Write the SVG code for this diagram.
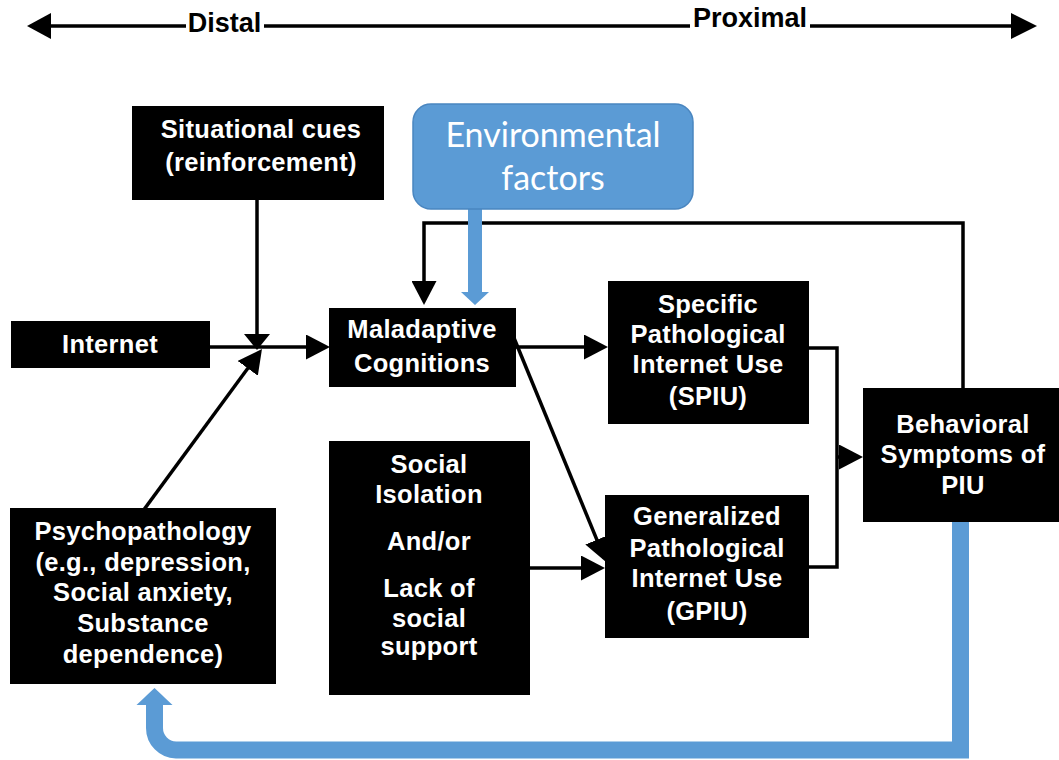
<svg xmlns="http://www.w3.org/2000/svg" width="1059" height="760" viewBox="0 0 1059 760">
  <style>
    .box { fill: #000; }
    .lbl { font-family: "Liberation Sans", Arial, sans-serif; font-weight: bold; font-size: 25.5px; letter-spacing: 0.3px; fill: #fff; text-anchor: middle; }
    .axis { font-family: "Liberation Sans", Arial, sans-serif; font-weight: bold; font-size: 27px; fill: #000; text-anchor: middle; }
    .env { font-family: Lato, "Open Sans", sans-serif; font-size: 34px; fill: #fff; text-anchor: middle; }
    .wire { stroke: #000; stroke-width: 3.5; fill: none; }
    .blue { fill: #5B9BD5; }
    .bluewire { stroke: #5B9BD5; stroke-width: 17; fill: none; stroke-linejoin: miter; }
  </style>
  <defs>
    <marker id="ah" viewBox="0 0 24 25" refX="20" refY="12.5" markerWidth="24" markerHeight="25" markerUnits="userSpaceOnUse" orient="auto">
      <path d="M0,0 L24,12.5 L0,25 Z" fill="#000"/>
    </marker>
    <marker id="ahs" viewBox="0 0 16 26" refX="12" refY="13" markerWidth="16" markerHeight="26" markerUnits="userSpaceOnUse" orient="auto">
      <path d="M0,0 L16,13 L0,26 Z" fill="#000"/>
    </marker>
  </defs>

  <!-- distal / proximal axis -->
  <g id="axis">
    <path class="wire" stroke-width="4" d="M50 26 H186 M264 26 H690 M810 26 H1012"/>
    <polygon points="27,26 51,13 51,39" fill="#000"/>
    <polygon points="1037,26 1011,13 1011,39" fill="#000"/>
    <text class="axis" x="224.5" y="32">Distal</text>
    <text class="axis" x="750" y="27">Proximal</text>
  </g>

  <!-- connectors -->
  <g id="connectors">
    <path class="wire" d="M210 347 H326" marker-end="url(#ah)"/>
    <path class="wire" d="M257 200 V346" marker-end="url(#ahs)"/>
    <path class="wire" d="M140 515 L259.6 352.2" marker-end="url(#ah)"/>
    <path class="wire" d="M512 347 H604" marker-end="url(#ah)"/>
    <path class="wire" d="M514 338 L604.5 558.3" marker-end="url(#ah)"/>
    <path class="wire" d="M529 568 H601" marker-end="url(#ah)"/>
    <path class="wire" d="M809 348 H837 V567 H809"/>
    <path class="wire" d="M837 457 H859" marker-end="url(#ah)"/>
    <path class="wire" d="M963 388 V223 H424 V301" marker-end="url(#ah)"/>
    <path class="blue" d="M468 208 H482 V292 H489 L475 305 L461 292 H468 Z"/>
    <path class="bluewire" d="M960.5 522 V750 H176 A22 22 0 0 1 154.5 728 V703"/>
    <polygon class="blue" points="136.5,705 172.5,705 154.5,688"/>
  </g>

  <g id="situational-cues">
    <rect class="box" x="132" y="106" width="252" height="94"/>
    <text class="lbl" x="261" y="138">Situational cues</text>
    <text class="lbl" x="261" y="171">(reinforcement)</text>
  </g>

  <g id="internet">
    <rect class="box" x="11" y="321" width="199" height="47"/>
    <text class="lbl" x="110" y="353">Internet</text>
  </g>

  <g id="maladaptive-cognitions">
    <rect class="box" x="329" y="308" width="187" height="79"/>
    <text class="lbl" x="422" y="338">Maladaptive</text>
    <text class="lbl" x="422" y="372">Cognitions</text>
  </g>

  <g id="environmental-factors">
    <rect x="413" y="104" width="280" height="105" rx="18" ry="18" fill="#5B9BD5" stroke="#4A86C0" stroke-width="1.5"/>
    <text class="env" x="553" y="147">Environmental</text>
    <text class="env" x="553" y="190">factors</text>
  </g>

  <g id="spiu">
    <rect class="box" x="608" y="281" width="201" height="143"/>
    <text class="lbl" x="708" y="313">Specific</text>
    <text class="lbl" x="708" y="343">Pathological</text>
    <text class="lbl" x="708" y="373">Internet Use</text>
    <text class="lbl" x="708" y="405">(SPIU)</text>
  </g>

  <g id="gpiu">
    <rect class="box" x="605" y="495" width="204" height="143"/>
    <text class="lbl" x="707" y="525">Generalized</text>
    <text class="lbl" x="707" y="557">Pathological</text>
    <text class="lbl" x="707" y="587">Internet Use</text>
    <text class="lbl" x="707" y="620">(GPIU)</text>
  </g>

  <g id="behavioral-symptoms">
    <rect class="box" x="863" y="388" width="196" height="134"/>
    <text class="lbl" x="963" y="433">Behavioral</text>
    <text class="lbl" x="963" y="463">Symptoms of</text>
    <text class="lbl" x="963" y="494">PIU</text>
  </g>

  <g id="psychopathology">
    <rect class="box" x="10" y="508" width="266" height="176"/>
    <text class="lbl" x="143" y="540">Psychopathology</text>
    <text class="lbl" x="143" y="571">(e.g., depression,</text>
    <text class="lbl" x="143" y="601">Social anxiety,</text>
    <text class="lbl" x="143" y="632">Substance</text>
    <text class="lbl" x="143" y="663">dependence)</text>
  </g>

  <g id="social-isolation">
    <rect class="box" x="329" y="441" width="201" height="254"/>
    <text class="lbl" x="429" y="473">Social</text>
    <text class="lbl" x="429" y="503">Isolation</text>
    <text class="lbl" x="429" y="550">And/or</text>
    <text class="lbl" x="429" y="597">Lack of</text>
    <text class="lbl" x="429" y="627">social</text>
    <text class="lbl" x="429" y="655">support</text>
  </g>
</svg>
